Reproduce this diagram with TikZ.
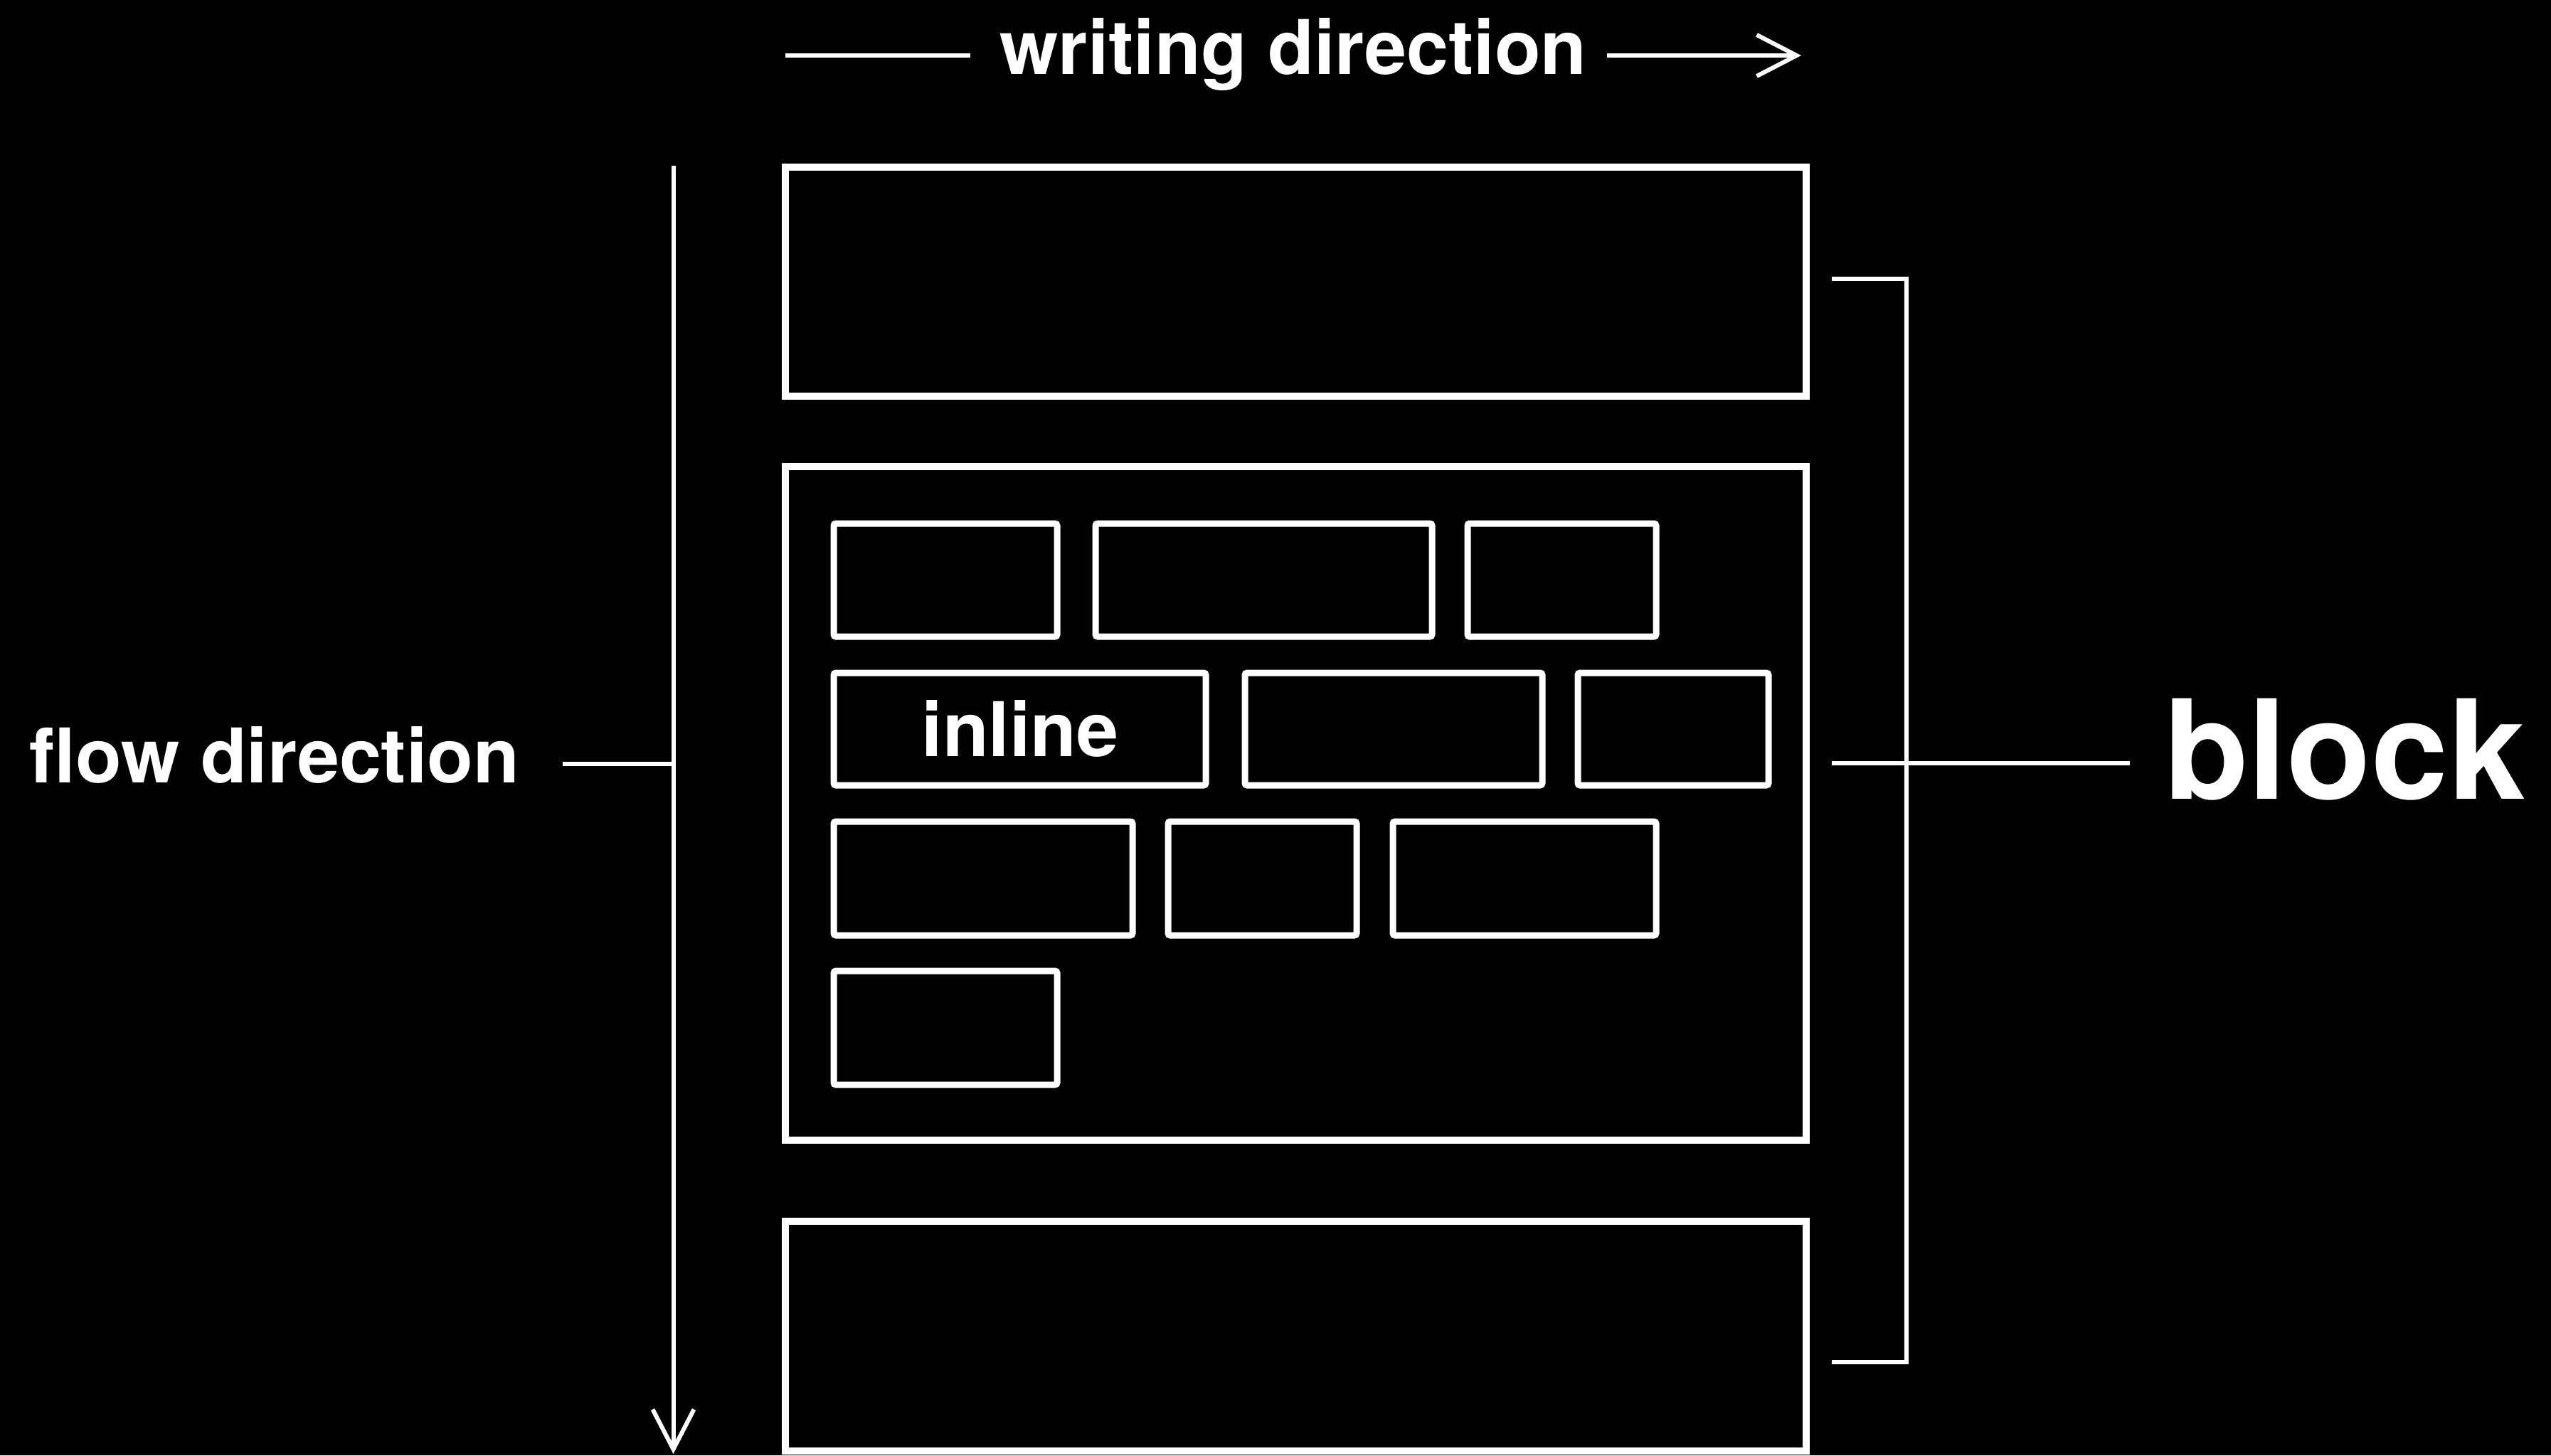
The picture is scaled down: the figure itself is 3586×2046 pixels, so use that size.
\documentclass[tikz,border=0pt]{standalone}
\usepackage{fontspec}
\setmainfont{TeX Gyre Heros}
\usetikzlibrary{arrows.meta}
\begin{document}
\begin{tikzpicture}[x=1pt,y=-1pt,
  blk/.style={draw=white,line width=10pt,inner sep=0pt,rectangle},
  inl/.style={draw=white,line width=9pt,rounded corners=3pt,inner sep=0pt,rectangle},
  lbl/.style={text=white,font=\bfseries\fontsize{106}{120}\selectfont,inner sep=0pt,anchor=base},
  biglbl/.style={text=white,font=\bfseries\fontsize{194}{220}\selectfont,inner sep=0pt,anchor=base},
  thinline/.style={draw=white,line width=6pt,line join=miter},
  arrowtip/.style={-{Straight Barb[length=56pt,width=58pt]}}
]
\fill[black] (0,0) rectangle (3586,2046);
\useasboundingbox (0,0) rectangle (3586,2046);

\newcommand\inbox[5]{\node[inl,minimum width={(#3-#2)*1pt},minimum height={(#5-#4)*1pt}] (#1) at ({(#2+#3)/2},{(#4+#5)/2}) {};}

% blocks
\node[blk,minimum width=1435pt,minimum height=322pt] (top) at (1821.5,396) {};
\node[blk,minimum width=1435pt,minimum height=947pt] (mid) at (1821.5,1129.5) {};
\node[blk,minimum width=1435pt,minimum height=323pt] (bot) at (1821.5,1878.5) {};

% inline boxes
\inbox{a1}{1172}{1486}{736}{895}
\inbox{a2}{1540}{2013}{736}{895}
\inbox{a3}{2063}{2328}{736}{895}
\inbox{b1}{1172}{1695}{946}{1104}
\inbox{b2}{1750}{2168}{946}{1104}
\inbox{b3}{2218}{2486}{946}{1104}
\inbox{c1}{1172}{1592}{1155}{1315}
\inbox{c2}{1642}{1907}{1155}{1315}
\inbox{c3}{1958}{2328}{1155}{1315}
\inbox{d1}{1172}{1486}{1365}{1525}
\node[lbl] (inl) at (1434,1063) {inline};

% writing direction
\node[lbl] (wd) at (1818,104) {writing direction};
\coordinate (wl1) at (1104,78);
\coordinate (wl2) at (1364,78);
\coordinate (wr1) at (2259,78);
\coordinate (wr2) at (2532,78);
\draw[thinline] (wl1) -- (wl2);
\draw[thinline,arrowtip] (wr1) -- (wr2);

% flow direction
\coordinate (ft) at (946.5,233);
\coordinate (fb) at (946.5,2044);
\draw[thinline,arrowtip] (ft) -- (fb);
\node[lbl] (fd) at (386,1100) {flow direction};
\coordinate (fl) at (791,1074);
\coordinate (fm) at (946.5,1074);
\draw[thinline] (fl) -- (fm);

% block bracket
\coordinate (k1) at (2575,392);
\coordinate (k2) at (2680,392);
\coordinate (k3) at (2680,1915);
\coordinate (k4) at (2575,1915);
\draw[thinline] (k1) -- (k2) -- (k3) -- (k4);
\coordinate (km) at (2575,1073);
\coordinate (kr) at (2994,1073);
\draw[thinline] (km) -- (kr);
\node[biglbl] (blk) at (3296,1123) {block};
\end{tikzpicture}
\end{document}
